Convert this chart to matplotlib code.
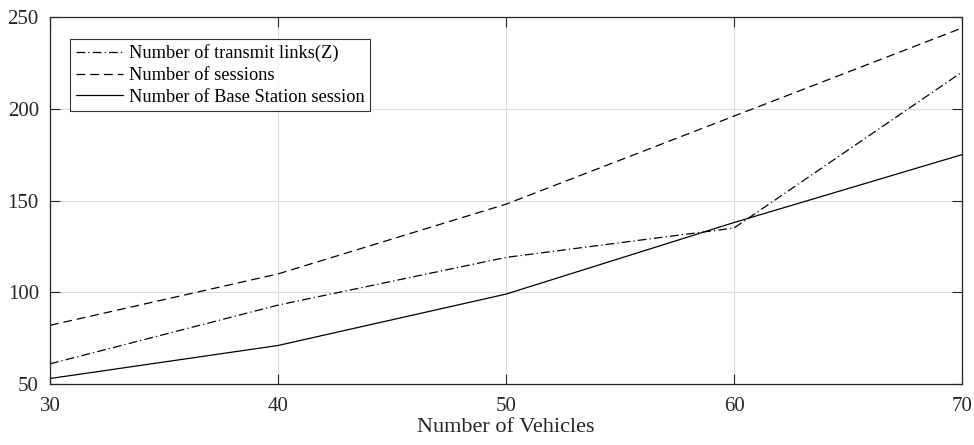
import matplotlib
matplotlib.use("Agg")
import matplotlib.pyplot as plt

plt.rcParams['font.family'] = ['Liberation Serif', 'DejaVu Serif']

vehicles = [30, 40, 50, 60, 70]
transmit_links = [61, 93, 119, 135, 220]
sessions = [82, 110, 148, 196, 244]
bs_sessions = [53, 71, 99, 138, 175]

fig = plt.figure(figsize=(9.74, 4.45), dpi=100)
ax = fig.add_axes([0.0513, 0.137, 0.9364, 0.8248])

ax.plot(vehicles, transmit_links, color='black', lw=0.9, dashes=(7, 2.5, 1, 2.5),
        label='Number of transmit links(Z)')
ax.plot(vehicles, sessions, color='black', lw=0.9, dashes=(7, 4),
        label='Number of sessions')
ax.plot(vehicles, bs_sessions, color='black', lw=0.9, ls='-',
        label='Number of Base Station session')

ax.set_xlim(30, 70)
ax.set_ylim(50, 250)
ax.set_xticks([30, 40, 50, 60, 70])
ax.set_yticks([50, 100, 150, 200, 250])
ax.grid(True, color='#dcdcdc', lw=0.8)
ax.set_axisbelow(True)
ax.tick_params(direction='in', length=7, width=0.8, top=True, right=True,
               labelsize=15, colors='#262626')
ax.tick_params(axis='x', pad=9)
ax.tick_params(axis='y', pad=8)
for s in ax.spines.values():
    s.set_linewidth(0.9)
    s.set_color('#262626')

ax.set_xlabel('Number of Vehicles', fontsize=16, color='#262626', labelpad=2)

leg = ax.legend(loc='upper left', bbox_to_anchor=(0.022, 0.94), borderaxespad=0,
                fontsize=13.2, frameon=True, fancybox=False, handlelength=2.6,
                handletextpad=0.3, labelspacing=0.25, borderpad=0.3)
leg.get_frame().set_edgecolor('black')
leg.get_frame().set_linewidth(0.8)

fig.savefig('out.png', dpi=100)
